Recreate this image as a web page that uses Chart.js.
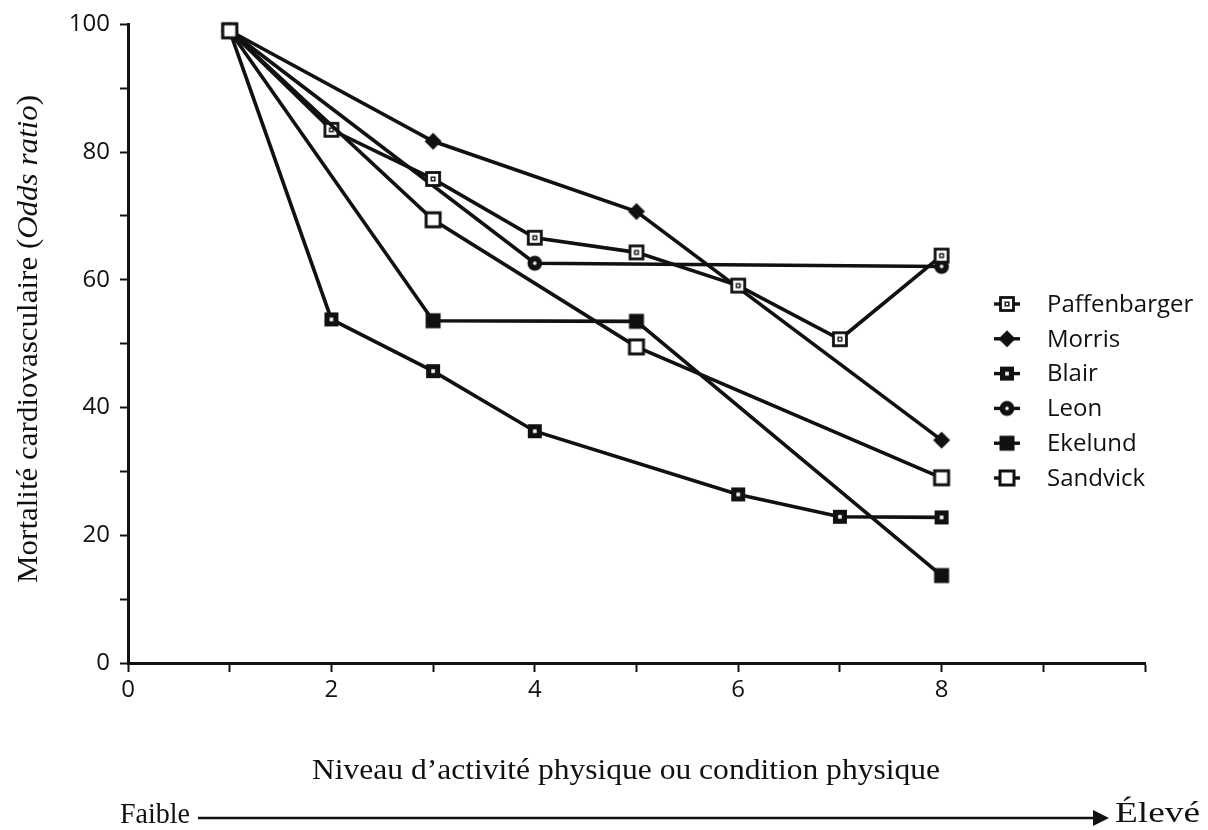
<!DOCTYPE html>
<html>
<head>
<meta charset="utf-8">
<script src="https://cdn.jsdelivr.net/npm/chart.js@4/dist/chart.umd.min.js"></script>
<style>
html,body{margin:0;padding:0;background:#fff;}
#wrap{position:relative;width:1208px;height:830px;}
canvas{display:block;}
</style>
</head>
<body>
<div id="wrap"><canvas id="c" width="1208" height="830"></canvas></div>
<script>
// ---- Data ----
const seriesNames = ['Paffenbarger','Morris','Blair','Leon','Ekelund','Sandvick'];
const paffX = [1, 2, 3, 4, 5, 6, 7, 8];
const paffY = [99, 83.5, 75.8, 66.6, 64.3, 59.1, 50.7, 63.8];
const morrisX = [1, 3, 5, 8];
const morrisY = [99, 81.7, 70.7, 34.9];
const blairX = [1, 2, 3, 4, 6, 7, 8];
const blairY = [99, 53.8, 45.7, 36.3, 26.4, 22.9, 22.8];
const leonX = [1, 4, 8];
const leonY = [99, 62.6, 62.1];
const ekelundX = [1, 3, 5, 8];
const ekelundY = [99, 53.6, 53.5, 13.7];
const sandvickX = [1, 3, 5, 8];
const sandvickY = [99, 69.4, 49.5, 29.0];
const xTickLabels = ['0','2','4','6','8'];
const yTickLabels = ['0','20','40','60','80','100'];
const yTitleParts = ['Mortalité cardiovasculaire (', 'Odds ratio', ')'];
const xTitle = 'Niveau d\u2019activité physique ou condition physique';
const lowLabel = 'Faible';
const highLabel = 'Élevé';

const INK = '#111111';
const SANS = '"Open Sans", "Noto Sans", sans-serif';
const SERIF = '"Liberation Serif", "DejaVu Serif", serif';

function pts(xs, ys){ return xs.map((x,i)=>({x:x, y:ys[i]})); }

function makeMarker(type){
  const s = 20, c = document.createElement('canvas');
  c.width = s; c.height = s;
  const g = c.getContext('2d');
  g.fillStyle = INK; g.strokeStyle = INK;
  if(type==='paff'){
    g.fillStyle='#fff'; g.fillRect(3.5,3.5,13,13);
    g.lineWidth=2.8; g.strokeRect(3.5,3.5,13,13);
    g.lineWidth=1.4; g.strokeRect(8.2,8.2,3.6,3.6);
  } else if(type==='morris'){
    g.beginPath(); g.moveTo(10,1.5); g.lineTo(18.5,10); g.lineTo(10,18.5); g.lineTo(1.5,10); g.closePath(); g.fill();
  } else if(type==='blair'){
    g.fillRect(3,3,14,14);
    g.fillStyle='#fff'; g.fillRect(8.2,8.2,3.6,3.6);
  } else if(type==='leon'){
    g.beginPath(); g.arc(10,10,7.4,0,Math.PI*2); g.fill();
    g.fillStyle='#fff'; g.beginPath(); g.arc(10,10,1.8,0,Math.PI*2); g.fill();
  } else if(type==='ekelund'){
    g.fillRect(2.5,2.5,15,15);
  } else if(type==='sandvick'){
    g.fillStyle='#fff'; g.fillRect(3,3,14,14);
    g.lineWidth=3; g.strokeRect(3,3,14,14);
  }
  return c;
}
const markerTypes = ['paff','morris','blair','leon','ekelund','sandvick'];
const markers = markerTypes.map(makeMarker);

const seriesX = [paffX, morrisX, blairX, leonX, ekelundX, sandvickX];
const seriesY = [paffY, morrisY, blairY, leonY, ekelundY, sandvickY];
const orders = [1,1,1,1,1,0];

const datasets = seriesNames.map((n,i)=>({
  label: n,
  data: pts(seriesX[i], seriesY[i]),
  borderColor: INK,
  backgroundColor: INK,
  borderWidth: 3.6,
  tension: 0,
  pointStyle: markers[i],
  pointRadius: 9,
  pointHoverRadius: 9,
  order: orders[i],
  clip: false
}));

const AREA = {left:128, right:1145, top:22, bottom:663};

function condensedText(ctx, text, font, x, y, targetW, align){
  ctx.save();
  ctx.font = font;
  const w = ctx.measureText(text).width;
  ctx.translate(x, y);
  ctx.scale(targetW / w, 1);
  ctx.textBaseline = 'middle';
  ctx.textAlign = align || 'left';
  ctx.fillText(text, 0, 0);
  ctx.restore();
}

const decor = {
  id: 'decor',
  afterDraw(chart){
    const ctx = chart.ctx;
    ctx.save();
    ctx.fillStyle = INK; ctx.strokeStyle = INK;
    // Y title (rotated, serif, with italic part)
    const fs = 30;
    const fReg = fs + 'px ' + SERIF;
    const fIt = 'italic ' + fs + 'px ' + SERIF;
    ctx.font = fReg; const w0 = ctx.measureText(yTitleParts[0]).width;
    ctx.font = fIt;  const w1 = ctx.measureText(yTitleParts[1]).width;
    ctx.font = fReg; const w2 = ctx.measureText(yTitleParts[2]).width;
    const total = w0+w1+w2;
    const sY = 488/total;
    ctx.save();
    ctx.translate(29, 339);
    ctx.rotate(-Math.PI/2);
    ctx.scale(sY, 1);
    ctx.textBaseline = 'middle'; ctx.textAlign = 'left';
    let xx = -total/2;
    ctx.font = fReg; ctx.fillText(yTitleParts[0], xx, 0); xx += w0;
    ctx.font = fIt;  ctx.fillText(yTitleParts[1], xx, 0); xx += w1;
    ctx.font = fReg; ctx.fillText(yTitleParts[2], xx, 0);
    ctx.restore();

    // X title
    condensedText(ctx, xTitle, fReg, 626, 771, 628, 'center');
    // Faible / Élevé
    condensedText(ctx, lowLabel, fReg, 120, 815, 70, 'left');
    condensedText(ctx, highLabel, fReg, 1115, 814, 85, 'left');

    // Arrow
    ctx.lineWidth = 2.4;
    ctx.beginPath(); ctx.moveTo(198, 818); ctx.lineTo(1098, 818); ctx.stroke();
    ctx.beginPath(); ctx.moveTo(1109, 818); ctx.lineTo(1093, 810); ctx.lineTo(1093, 826); ctx.closePath(); ctx.fill();

    // Legend
    const ly0 = 304, ldy = 34.8;
    ctx.font = '24px ' + SANS;
    ctx.textAlign='left'; ctx.textBaseline='middle';
    seriesNames.forEach((n,i)=>{
      const y = ly0 + i*ldy;
      ctx.lineWidth = 3.4;
      ctx.beginPath(); ctx.moveTo(994, y); ctx.lineTo(1020, y); ctx.stroke();
      const m = markers[i];
      ctx.drawImage(m, 1007 - m.width/2, y - m.height/2);
      ctx.fillText(n, 1047, y + 1);
    });
    ctx.restore();
  }
};

new Chart(document.getElementById('c'), {
  type: 'line',
  data: { datasets },
  options: {
    responsive: false,
    animation: false,
    devicePixelRatio: 1,
    layout: { padding: { top: AREA.top, right: 1208 - AREA.right, left: 0, bottom: 0 } },
    plugins: { legend: { display: false }, tooltip: { enabled: false } },
    scales: {
      x: {
        type: 'linear', min: 0, max: 10,
        afterFit(s){ s.height = 830 - AREA.bottom; },
        ticks: {
          stepSize: 1, autoSkip: false, maxRotation: 0, padding: 4,
          color: INK,
          font: { family: SANS, size: 24 },
          callback(v){ const l = String(v); return xTickLabels.includes(l) ? l : ''; }
        },
        grid: { drawOnChartArea: false, drawTicks: true, tickLength: 9, tickWidth: 2, color: INK },
        border: { display: true, color: INK, width: 3 }
      },
      y: {
        type: 'linear', min: 0, max: 100,
        afterFit(s){ s.width = AREA.left; },
        ticks: {
          stepSize: 10, autoSkip: false, padding: 10,
          color: INK,
          font: { family: SANS, size: 24 },
          callback(v){ const l = String(v); return yTickLabels.includes(l) ? l : ''; }
        },
        grid: { drawOnChartArea: false, drawTicks: true, tickLength: 8, tickWidth: 2, color: INK },
        border: { display: true, color: INK, width: 3 }
      }
    }
  },
  plugins: [decor]
});
</script>
</body>
</html>
